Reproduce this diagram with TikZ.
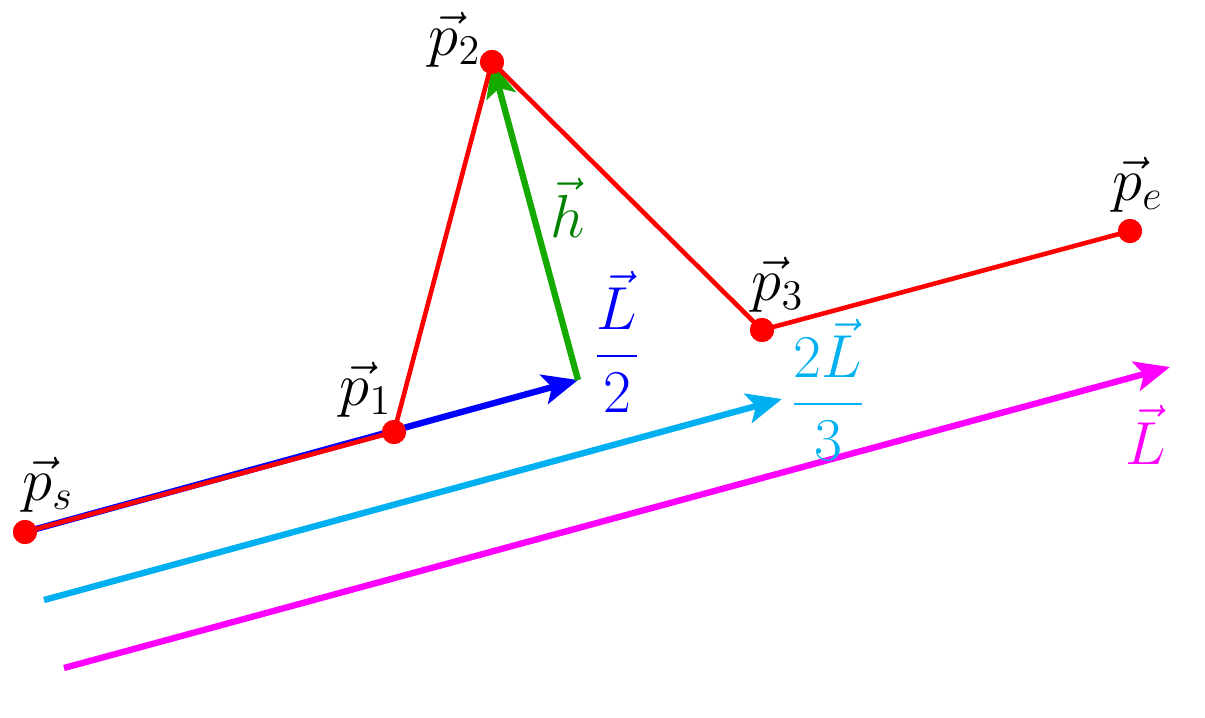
\documentclass[tikz,border=0pt]{standalone}
\usepackage{tikz}
\usetikzlibrary{arrows.meta}
\usetikzlibrary{positioning}
\definecolor{hgreen}{RGB}{20,170,0}
\definecolor{tgreen}{RGB}{0,130,0}
\definecolor{lcyan}{RGB}{0,176,240}
\definecolor{lmag}{RGB}{255,0,255}

\begin{document}
\begin{tikzpicture}[x=0.01cm, y=-0.01cm, font=\LARGE,
  pt/.style={circle, fill=red, inner sep=0pt, minimum size=0.24cm},
  vec/.style={line width=1.8pt, -{Stealth[length=0.35cm, width=0.3cm, inset=0.08cm]}}]
  \useasboundingbox (0,0) rectangle (1205,718);
  % points
  \node[pt] (ps) at (25,532) {};
  \node[pt] (p1) at (394,432) {};
  \node[pt] (p2) at (492,62) {};
  \node[pt] (p3) at (762,330) {};
  \node[pt] (pe) at (1130,231) {};
  % vector ends
  \coordinate (h0) at (578,380);
  \coordinate (c0) at (44,600);
  \coordinate (c1) at (782,399);
  \coordinate (m0) at (64,668);
  \coordinate (m1) at (1170,367);
  % vectors
  \draw[vec, blue] (ps.center) -- (h0);
  \draw[vec, hgreen] (h0) -- (p2.center);
  \draw[vec, lcyan] (c0) -- (c1);
  \draw[vec, lmag] (m0) -- (m1);
  % polyline
  \draw[red, line width=1.3pt] (ps.center) -- (p1.center) -- (p2.center) -- (p3.center) -- (pe.center);
  \node[pt] at (ps) {};
  \node[pt] at (p1) {};
  \node[pt] at (p2) {};
  \node[pt] at (p3) {};
  \node[pt] at (pe) {};
  % labels
  \node (lps) at (48,485) {$\vec{p}_s$};
  \node (lp1) at (366,390) {$\vec{p}_1$};
  \node (lp2) at (455,40) {$\vec{p}_2$};
  \node (lp3) at (778,285) {$\vec{p}_3$};
  \node (lpe) at (1138,185) {$\vec{p}_e$};
  \node[tgreen] (lh) at (568,208) {$\vec{h}$};
  \node[blue] (lL2) at (617,342) {$\displaystyle\frac{\vec{L}}{2}$};
  \node[lcyan] (lL3) at (828,390) {$\displaystyle\frac{2\vec{L}}{3}$};
  \node[lmag] (lL) at (1146,435) {$\vec{L}$};
\end{tikzpicture}
\end{document}
